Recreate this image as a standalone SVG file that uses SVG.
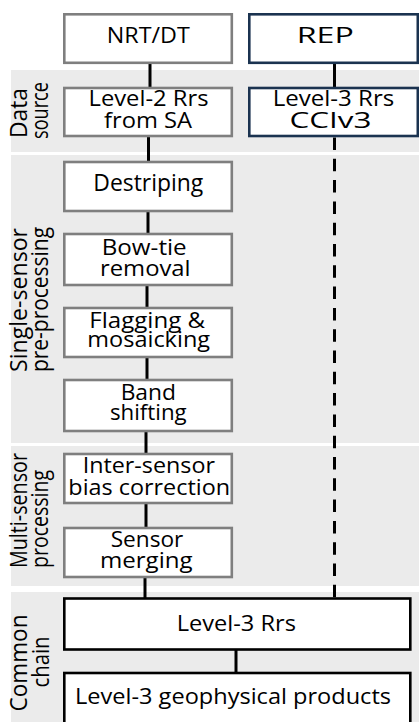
<svg xmlns="http://www.w3.org/2000/svg" width="419" height="722" viewBox="0 0 419 722">
<style>
text{font-family:"Open Sans","Noto Sans","Liberation Sans",sans-serif;font-size:22px;fill:#000;text-anchor:middle}
.lab{font-size:23px}
.band{fill:#ebebeb}
.g{fill:#fff;stroke:#7f7f7f;stroke-width:2.6}
.n{fill:#fff;stroke:#1b3350;stroke-width:2.6}
.k{fill:#fff;stroke:#000;stroke-width:2.6}
.c{stroke:#000;stroke-width:3;fill:none}
.d{stroke:#000;stroke-width:3;fill:none;stroke-dasharray:12.5 8.8}
</style>
<g id="bands">
<rect class="band" x="11" y="70" width="408" height="82"/>
<rect class="band" x="11" y="155" width="408" height="288"/>
<rect class="band" x="11" y="446" width="408" height="140"/>
<rect class="band" x="11" y="592" width="408" height="130"/>
</g>
<g id="band-labels">
<text class="lab" transform="translate(27,113) rotate(-90)" textLength="50" lengthAdjust="spacingAndGlyphs">Data</text>
<text class="lab" transform="translate(47.5,110.5) rotate(-90)" textLength="57" lengthAdjust="spacingAndGlyphs">source</text>
<text class="lab" transform="translate(27,300) rotate(-90)" textLength="144" lengthAdjust="spacingAndGlyphs">Single-sensor</text>
<text class="lab" transform="translate(48,299.5) rotate(-90)" textLength="145" lengthAdjust="spacingAndGlyphs">pre-processing</text>
<text class="lab" transform="translate(27,510.5) rotate(-90)" textLength="115" lengthAdjust="spacingAndGlyphs">Multi-sensor</text>
<text class="lab" transform="translate(48,519) rotate(-90)" textLength="98" lengthAdjust="spacingAndGlyphs">processing</text>
<text class="lab" transform="translate(27,663) rotate(-90)" textLength="97" lengthAdjust="spacingAndGlyphs">Common</text>
<text class="lab" transform="translate(49,662) rotate(-90)" textLength="51" lengthAdjust="spacingAndGlyphs">chain</text>
</g>
<g id="connectors">
<line class="c" x1="150" y1="63" x2="150" y2="88"/>
<line class="c" x1="148.5" y1="136" x2="148.5" y2="162"/>
<line class="c" x1="148" y1="211" x2="148" y2="234"/>
<line class="c" x1="147" y1="285" x2="147" y2="308"/>
<line class="c" x1="147" y1="357" x2="147" y2="380"/>
<line class="c" x1="146" y1="431" x2="146" y2="454"/>
<line class="c" x1="146" y1="503" x2="146" y2="528"/>
<line class="c" x1="145" y1="577" x2="145" y2="598"/>
<line class="c" x1="334.5" y1="63" x2="334.5" y2="88"/>
<line class="d" x1="334.5" y1="137.5" x2="334.5" y2="597.5"/>
<line class="c" x1="236" y1="650" x2="236" y2="673"/>
</g>
<g id="n-nrt"><rect class="g" x="64.3" y="14.3" width="167.5" height="48.5"/><text x="148.3" y="42.7" textLength="83" lengthAdjust="spacingAndGlyphs">NRT/DT</text></g>
<g id="n-rep"><rect class="n" x="249.3" y="14.3" width="168.5" height="48.5"/><text x="325.3" y="43" textLength="57" lengthAdjust="spacingAndGlyphs">REP</text></g>
<g id="n-l2"><rect class="g" x="64.3" y="88" width="167.5" height="48"/><text x="148.5" y="106" textLength="120" lengthAdjust="spacingAndGlyphs">Level-2 Rrs</text><text x="148" y="128.3" textLength="88" lengthAdjust="spacingAndGlyphs">from SA</text></g>
<g id="n-cci"><rect class="n" x="249.3" y="88" width="168.5" height="48"/><text x="333.5" y="106" textLength="121.6" lengthAdjust="spacingAndGlyphs">Level-3 Rrs</text><text x="330.5" y="128.3" textLength="82" lengthAdjust="spacingAndGlyphs">CCIv3</text></g>
<g id="n-destriping"><rect class="g" x="64.3" y="162" width="167.5" height="49"/><text x="148.3" y="190.7" style="font-size:24px" textLength="110" lengthAdjust="spacingAndGlyphs">Destriping</text></g>
<g id="n-bowtie"><rect class="g" x="64.3" y="234" width="167.5" height="51"/><text x="144.2" y="255" textLength="85" lengthAdjust="spacingAndGlyphs">Bow-tie</text><text x="145.3" y="276" textLength="90.7" lengthAdjust="spacingAndGlyphs">removal</text></g>
<g id="n-flagging"><rect class="g" x="64.3" y="308" width="167.5" height="49"/><text x="147.2" y="328.3" textLength="115.7" lengthAdjust="spacingAndGlyphs">Flagging &amp;</text><text x="148.7" y="346.7" textLength="122.7" lengthAdjust="spacingAndGlyphs">mosaicking</text></g>
<g id="n-band"><rect class="g" x="64.3" y="380" width="167.5" height="51"/><text x="148.3" y="400" textLength="55.3" lengthAdjust="spacingAndGlyphs">Band</text><text x="148.3" y="420" textLength="76.7" lengthAdjust="spacingAndGlyphs">shifting</text></g>
<g id="n-inter"><rect class="g" x="64.3" y="454" width="167.5" height="49"/><text x="148.8" y="473.3" textLength="132.3" lengthAdjust="spacingAndGlyphs">Inter-sensor</text><text x="149.2" y="495" textLength="161.7" lengthAdjust="spacingAndGlyphs">bias correction</text></g>
<g id="n-merging"><rect class="g" x="64.3" y="528" width="167.5" height="49"/><text x="147" y="547.3" textLength="72.7" lengthAdjust="spacingAndGlyphs">Sensor</text><text x="146.3" y="568.3" textLength="92.7" lengthAdjust="spacingAndGlyphs">merging</text></g>
<g id="n-l3rrs"><rect class="k" x="64.3" y="598.5" width="346" height="51"/><text x="236.3" y="630.7" textLength="119.3" lengthAdjust="spacingAndGlyphs">Level-3 Rrs</text></g>
<g id="n-geo"><rect class="k" x="64.3" y="673" width="346" height="52"/><text x="233" y="704" textLength="316" lengthAdjust="spacingAndGlyphs">Level-3 geophysical products</text></g>
</svg>
